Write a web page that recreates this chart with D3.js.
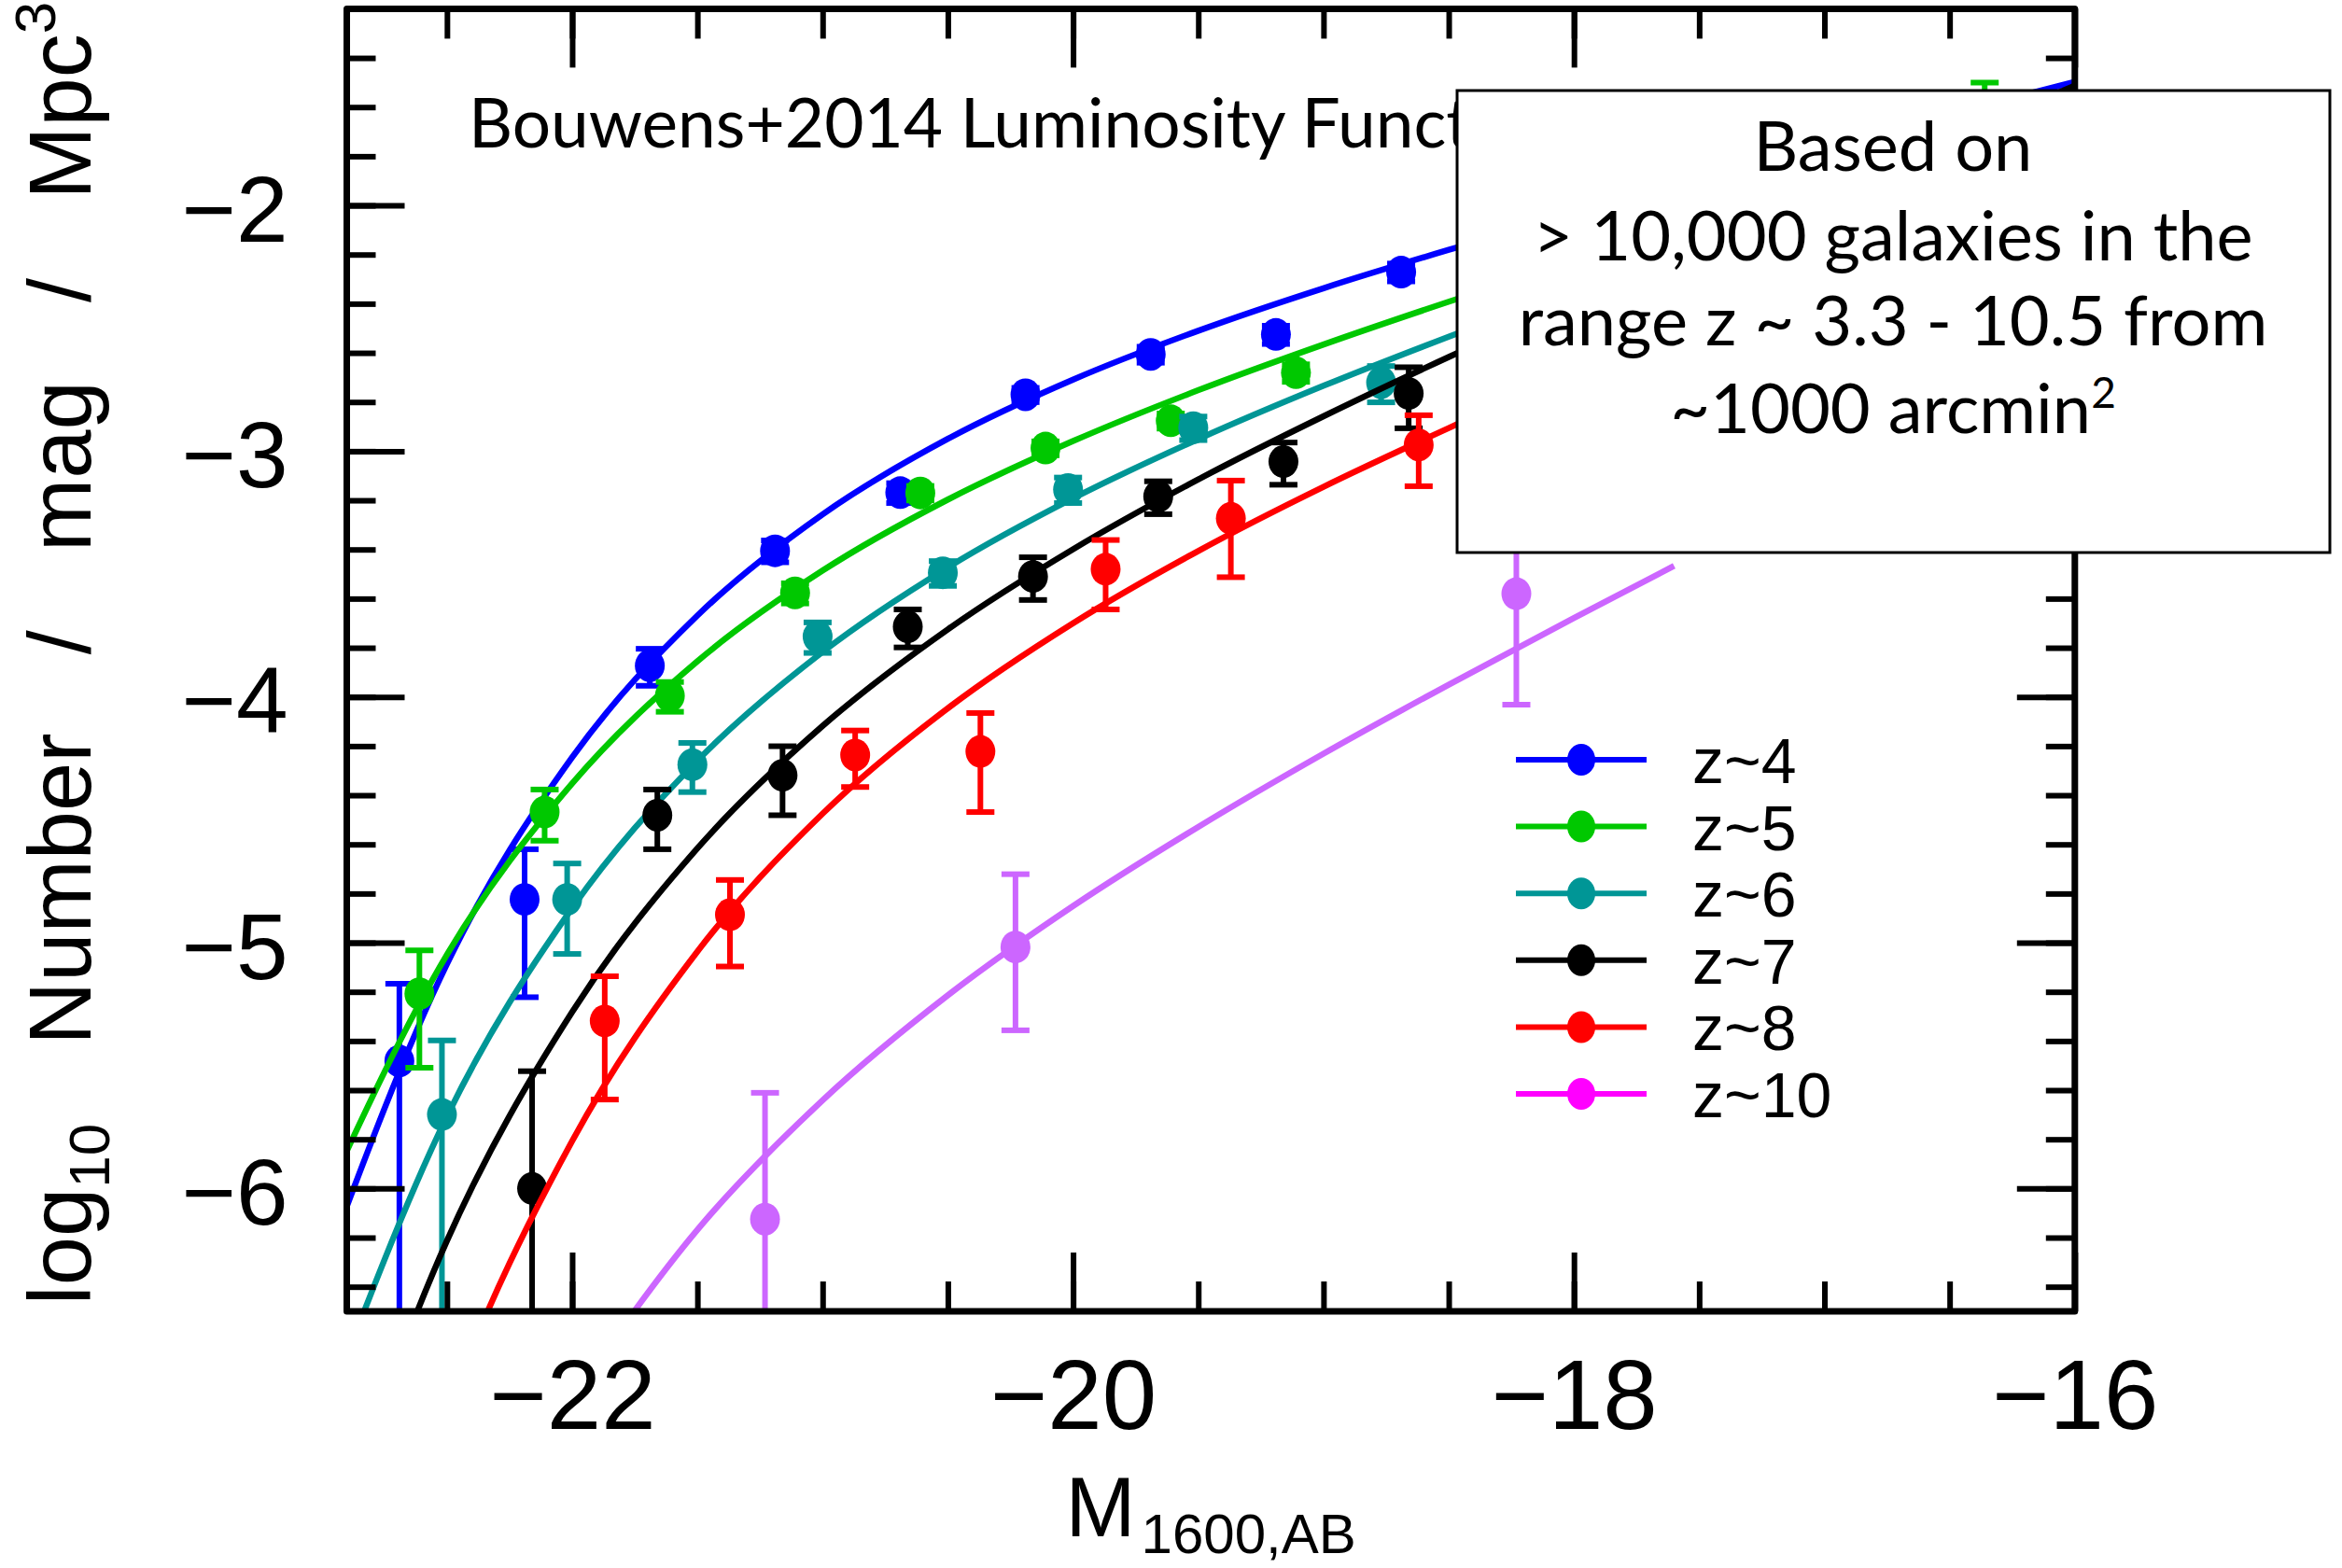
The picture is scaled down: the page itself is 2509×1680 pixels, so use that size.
<!DOCTYPE html>
<html>
<head>
<meta charset="utf-8">
<script src="https://cdn.jsdelivr.net/npm/d3@7"></script>
<style>
  html, body { margin: 0; padding: 0; background: #fff; }
  svg { display: block; }
</style>
</head>
<body>
<div id="chart"></div>
<script>
// Stepwise UV luminosity functions, phi in Mpc^-3 mag^-1, with 1-sigma errors
var z4M   = [-22.69, -22.19, -21.69, -21.19, -20.69, -20.19, -19.69, -19.19, -18.69, -18.19, -17.69, -17.19];
var z4Phi = [3.3e-6, 1.5e-5, 1.34e-4, 3.93e-4, 6.78e-4, 1.696e-3, 2.475e-3, 2.984e-3, 5.352e-3, 6.865e-3, 1.0473e-2, 2.458e-2];
var z4Err = [3.5e-6, 9e-6, 2.3e-5, 4.0e-5, 6.3e-5, 1.13e-4, 1.85e-4, 2.55e-4, 4.46e-4, 1.043e-3, 2.229e-3, 3.5e-3];

var z5M   = [-22.61, -22.11, -21.61, -21.11, -20.61, -20.11, -19.61, -19.11, -18.36, -17.36, -16.36];
var z5Phi = [6.2e-6, 3.4e-5, 1.01e-4, 2.65e-4, 6.76e-4, 1.029e-3, 1.329e-3, 2.085e-3, 4.46e-3, 8.6e-3, 2.44e-2];
var z5Err = [3.1e-6, 8e-6, 1.4e-5, 2.5e-5, 4.6e-5, 6.7e-5, 9.4e-5, 1.71e-4, 5.4e-4, 1.76e-3, 7.16e-3];

var z6M   = [-22.52, -22.02, -21.52, -21.02, -20.52, -20.02, -19.52, -18.77, -17.77, -16.77];
var z6Phi = [2e-6, 1.5e-5, 5.3e-5, 1.76e-4, 3.2e-4, 6.98e-4, 1.246e-3, 1.9e-3, 6.68e-3, 1.364e-2];
var z6Err = [2e-6, 6e-6, 1.2e-5, 2.5e-5, 3.7e-5, 8.3e-5, 1.37e-4, 3.2e-4, 2.08e-3, 5.2e-3];

var z7M   = [-22.16, -21.66, -21.16, -20.66, -20.16, -19.66, -19.16, -18.66, -17.91, -16.91];
var z7Phi = [1e-6, 3.3e-5, 4.8e-5, 1.93e-4, 3.09e-4, 6.54e-4, 9.07e-4, 1.717e-3, 5.84e-3, 8.5e-3];
var z7Err = [2e-6, 9e-6, 1.5e-5, 3.4e-5, 6.1e-5, 1.0e-4, 1.77e-4, 4.78e-4, 1.46e-3, 2.94e-3];

var z8M   = [-21.87, -21.37, -20.87, -20.37, -19.87, -19.37, -18.62, -17.62];
var z8Phi = [4.8e-6, 1.3e-5, 5.8e-5, 6.0e-5, 3.31e-4, 5.33e-4, 1.06e-3, 2.44e-3];
var z8Err = [2.5e-6, 5e-6, 1.5e-5, 2.6e-5, 1.04e-4, 2.26e-4, 3.4e-4, 9.6e-4];

var z10M     = [-21.23, -20.23, -18.23];
var z10Phi   = [7.5e-7, 9.6e-6, 2.63e-4];
var z10ErrUp = [1.7e-6, 9.4e-6, 1.7e-4];
var z10ErrDn = [1.0e-6, 5.2e-6, 1.7e-4];

// Schechter fits (log10 phi)
var fitM   = [-23, -22.5, -22, -21.5, -21, -20.5, -20, -19.5, -19, -18.5, -18, -17.5, -17, -16.5, -16];
var z4Fit  = [-6.344, -5.087, -4.246, -3.669, -3.257, -2.950, -2.709, -2.510, -2.337, -2.181, -2.035, -1.895, -1.760, -1.628, -1.497];
var z5Fit  = [-6.066, -5.049, -4.352, -3.855, -3.486, -3.197, -2.959, -2.752, -2.566, -2.392, -2.226, -2.066, -1.908, -1.753, -1.599];
var z6Fit  = [-6.950, -5.707, -4.859, -4.259, -3.817, -3.473, -3.192, -2.951, -2.734, -2.534, -2.343, -2.158, -1.977, -1.799, -1.622];
var z7Fit  = [-7.565, -6.213, -5.282, -4.616, -4.118, -3.725, -3.399, -3.115, -2.858, -2.617, -2.387, -2.164, -1.945, -1.728, -1.513];
var z8Fit  = [-8.534, -6.908, -5.807, -5.036, -4.475, -4.046, -3.700, -3.406, -3.145, -2.906, -2.679, -2.461, -2.248, -2.038, -1.831];
var z10FitM = [-22, -21.5, -21, -20.5, -20, -19.5, -19, -18.5, -18, -17.6];
var z10Fit  = [-6.855, -6.168, -5.641, -5.214, -4.851, -4.529, -4.231, -3.950, -3.679, -3.467];

var seriesNames   = ['z~4', 'z~5', 'z~6', 'z~7', 'z~8', 'z~10'];
var seriesColors  = ['#0000ff', '#00c800', '#009696', '#000000', '#ff0000', '#cc66ff'];
var legendColors  = ['#0000ff', '#00c800', '#009696', '#000000', '#ff0000', '#ff00ff'];

var xMajorTicks = [-22, -20, -18, -16];
var yMajorTicks = [-6, -5, -4, -3, -2];

var titleText = 'Bouwens+2014 Luminosity Functions';
var boxLines = ['Based on', '> 10,000 galaxies in the', 'range z ~ 3.3 - 10.5 from', '~1000 arcmin'];

var W = 2509, H = 1680;
var plot = { left: 371.5, right: 2222.8, top: 9.4, bottom: 1405 };
var sansFont = '"Liberation Sans", Arial, sans-serif';
var gillFont = 'Lato, "Open Sans", sans-serif';

var svg = d3.select('#chart').append('svg')
    .attr('width', W)
    .attr('height', H)
    .style('background', '#fff');

var x = d3.scaleLinear().domain([-22.9, -16]).range([plot.left, plot.right]);
var y = d3.scaleLinear().domain([-6.5, -1.2]).range([plot.bottom, plot.top]);

svg.append('defs').append('clipPath').attr('id', 'plotClip')
    .append('rect')
    .attr('x', plot.left).attr('y', plot.top)
    .attr('width', plot.right - plot.left).attr('height', plot.bottom - plot.top);

var series = [
    { M: z4M, phi: z4Phi, up: z4Err, dn: z4Err, fitM: fitM, fit: z4Fit },
    { M: z5M, phi: z5Phi, up: z5Err, dn: z5Err, fitM: fitM, fit: z5Fit },
    { M: z6M, phi: z6Phi, up: z6Err, dn: z6Err, fitM: fitM, fit: z6Fit },
    { M: z7M, phi: z7Phi, up: z7Err, dn: z7Err, fitM: fitM, fit: z7Fit },
    { M: z8M, phi: z8Phi, up: z8Err, dn: z8Err, fitM: fitM, fit: z8Fit },
    { M: z10M, phi: z10Phi, up: z10ErrUp, dn: z10ErrDn, fitM: z10FitM, fit: z10Fit }
];
series.forEach(function(s, i) { s.name = seriesNames[i]; s.color = seriesColors[i]; });

var dataG = svg.append('g').attr('clip-path', 'url(#plotClip)');
var capHalf = 15;
var barWidth = 6;

var fitLine = d3.line()
    .x(function(d) { return x(d[0]); })
    .y(function(d) { return y(d[1]); })
    .curve(d3.curveMonotoneX);

series.forEach(function(s) {
    var g = dataG.append('g').attr('class', 'series');

    g.append('path')
        .datum(d3.zip(s.fitM, s.fit))
        .attr('d', fitLine)
        .attr('fill', 'none')
        .attr('stroke', s.color)
        .attr('stroke-width', 6.5);

    var pts = s.M.map(function(m, i) {
        var lo = s.phi[i] - s.dn[i];
        return {
            M: m,
            v: Math.log10(s.phi[i]),
            hi: Math.log10(s.phi[i] + s.up[i]),
            lo: lo > 0 ? Math.log10(lo) : null
        };
    });

    // error bars
    g.selectAll('line.bar').data(pts).enter().append('line')
        .attr('class', 'bar')
        .attr('x1', function(d) { return x(d.M); })
        .attr('x2', function(d) { return x(d.M); })
        .attr('y1', function(d) { return y(d.hi); })
        .attr('y2', function(d) { return d.lo === null ? plot.bottom + 20 : y(d.lo); })
        .attr('stroke', s.color).attr('stroke-width', barWidth);

    g.selectAll('line.capHi').data(pts).enter().append('line')
        .attr('class', 'capHi')
        .attr('x1', function(d) { return x(d.M) - capHalf; })
        .attr('x2', function(d) { return x(d.M) + capHalf; })
        .attr('y1', function(d) { return y(d.hi); })
        .attr('y2', function(d) { return y(d.hi); })
        .attr('stroke', s.color).attr('stroke-width', barWidth);

    g.selectAll('line.capLo').data(pts.filter(function(d) { return d.lo !== null; })).enter().append('line')
        .attr('class', 'capLo')
        .attr('x1', function(d) { return x(d.M) - capHalf; })
        .attr('x2', function(d) { return x(d.M) + capHalf; })
        .attr('y1', function(d) { return y(d.lo); })
        .attr('y2', function(d) { return y(d.lo); })
        .attr('stroke', s.color).attr('stroke-width', barWidth);

    g.selectAll('ellipse').data(pts).enter().append('ellipse')
        .attr('cx', function(d) { return x(d.M); })
        .attr('cy', function(d) { return y(d.v); })
        .attr('rx', 16)
        .attr('ry', 17.5)
        .attr('fill', s.color);
});

// Frame
svg.append('rect')
    .attr('x', plot.left).attr('y', plot.top)
    .attr('width', plot.right - plot.left).attr('height', plot.bottom - plot.top)
    .attr('fill', 'none')
    .attr('stroke', '#000')
    .attr('stroke-width', 7)
    .attr('stroke-linejoin', 'round');

// Axes: all ticks point inward
function styleAxis(sel) {
    sel.select('.domain').remove();
    sel.selectAll('.tick line').attr('stroke', '#000').attr('stroke-width', 6);
    sel.attr('font-family', sansFont).attr('font-size', 100);
    sel.selectAll('.tick text').attr('fill', '#000');
}

var xMinor = d3.range(-22.5, -16, 0.5);
var yMinor = d3.range(-6.4, -1.3, 0.2);

svg.append('g').attr('transform', 'translate(0,' + plot.bottom + ')')
    .call(d3.axisBottom(x).tickValues(xMinor).tickSize(-32).tickFormat(''))
    .call(styleAxis);
var xAxisMajor = svg.append('g').attr('transform', 'translate(0,' + plot.bottom + ')')
    .call(d3.axisBottom(x).tickValues(xMajorTicks).tickSize(-63).tickPadding(51).tickFormat(d3.format('d')))
    .call(styleAxis);
xAxisMajor.attr('font-size', 105);
svg.append('g').attr('transform', 'translate(0,' + plot.top + ')')
    .call(d3.axisTop(x).tickValues(xMinor).tickSize(-32).tickFormat(''))
    .call(styleAxis);
svg.append('g').attr('transform', 'translate(0,' + plot.top + ')')
    .call(d3.axisTop(x).tickValues(xMajorTicks).tickSize(-63).tickFormat(''))
    .call(styleAxis);

svg.append('g').attr('transform', 'translate(' + plot.left + ',0)')
    .call(d3.axisLeft(y).tickValues(yMinor).tickSize(-31).tickFormat(''))
    .call(styleAxis);
var yAxisMajor = svg.append('g').attr('transform', 'translate(' + plot.left + ',0)')
    .call(d3.axisLeft(y).tickValues(yMajorTicks).tickSize(-62).tickPadding(63).tickFormat(d3.format('d')))
    .call(styleAxis);
yAxisMajor.selectAll('.tick text').attr('dy', '0.38em');
svg.append('g').attr('transform', 'translate(' + plot.right + ',0)')
    .call(d3.axisRight(y).tickValues(yMinor).tickSize(-31).tickFormat(''))
    .call(styleAxis);
svg.append('g').attr('transform', 'translate(' + plot.right + ',0)')
    .call(d3.axisRight(y).tickValues(yMajorTicks).tickSize(-62).tickFormat(''))
    .call(styleAxis);

// Axis titles
var xTitle = svg.append('text')
    .attr('x', (plot.left + plot.right) / 2)
    .attr('y', 1646)
    .attr('text-anchor', 'middle')
    .attr('font-family', sansFont)
    .attr('font-size', 90)
    .attr('fill', '#000');
xTitle.append('tspan').text('M');
xTitle.append('tspan').attr('dx', 6).attr('dy', 18).attr('font-size', 60).text('1600,AB');

var yTitle = svg.append('text')
    .attr('transform', 'translate(97,700) rotate(-90)')
    .attr('text-anchor', 'middle')
    .attr('font-family', sansFont)
    .attr('font-size', 94)
    .attr('word-spacing', 58)
    .attr('fill', '#000');
yTitle.append('tspan').text('log');
yTitle.append('tspan').attr('dy', 20).attr('font-size', 62).text('10');
yTitle.append('tspan').attr('dy', -20).text(' Number / mag / Mpc');
yTitle.append('tspan').attr('dy', -38).attr('font-size', 62).text('3');

// Title inside the plot
svg.append('text')
    .attr('x', 502)
    .attr('y', 158)
    .attr('font-family', gillFont)
    .attr('font-size', 73)
    .attr('fill', '#000')
    .text(titleText);

// Legend
var legendRowY = d3.scaleLinear().domain([0, seriesNames.length - 1]).range([814, 1172]);
var legend = svg.append('g').attr('class', 'legend');
seriesNames.forEach(function(name, i) {
    var ry = legendRowY(i);
    var row = legend.append('g').attr('transform', 'translate(0,' + ry + ')');
    row.append('line')
        .attr('x1', 1624).attr('x2', 1764)
        .attr('stroke', legendColors[i]).attr('stroke-width', 6);
    row.append('ellipse')
        .attr('cx', 1694).attr('rx', 15).attr('ry', 17)
        .attr('fill', legendColors[i]);
    row.append('text')
        .attr('x', 1813).attr('y', 25)
        .attr('font-family', sansFont)
        .attr('font-size', 68)
        .attr('fill', '#000')
        .text(name);
});

// Annotation box
svg.append('rect')
    .attr('x', 1561).attr('y', 97)
    .attr('width', 935).attr('height', 495)
    .attr('fill', '#fff')
    .attr('stroke', '#000')
    .attr('stroke-width', 3);

var boxBaselines = [183, 279, 370, 464];
boxLines.forEach(function(line, i) {
    var t = svg.append('text')
        .attr('x', 2028)
        .attr('y', boxBaselines[i])
        .attr('text-anchor', 'middle')
        .attr('font-family', gillFont)
        .attr('font-size', 74)
        .attr('fill', '#000')
        .text(line);
    if (i === boxLines.length - 1) {
        t.append('tspan').attr('dy', -27).attr('font-size', 46).text('2');
    }
});
</script>
</body>
</html>
